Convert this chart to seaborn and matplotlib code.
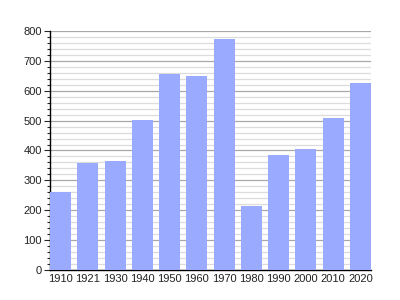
import matplotlib
matplotlib.use("Agg")
import matplotlib.pyplot as plt
from matplotlib.ticker import MultipleLocator
import seaborn as sns
import pandas as pd

years = ["1910", "1921", "1930", "1940", "1950", "1960", "1970", "1980", "1990", "2000", "2010", "2020"]
population = [261, 359, 365, 501, 656, 649, 773, 214, 385, 405, 508, 625]

df = pd.DataFrame({"year": years, "pop": population})

sns.set_style("white")
plt.rcParams['font.family'] = ['Liberation Sans', 'DejaVu Sans']

fig = plt.figure(figsize=(4, 3), dpi=100)
ax = fig.add_axes([0.125, 0.1, 0.8025, 0.7967])

sns.barplot(data=df, x="year", y="pop", color="#99aaff", saturation=1,
            width=0.77, linewidth=0, edgecolor="none", ax=ax, zorder=3)

ax.set_ylim(0, 800)
ax.set_xlim(-0.385, 11.385)
ax.yaxis.set_major_locator(MultipleLocator(100))
ax.yaxis.set_minor_locator(MultipleLocator(20))
ax.grid(which="major", axis="y", color="#a8a8a8", linewidth=0.9, zorder=0)
ax.grid(which="minor", axis="y", color="#dcdcdc", linewidth=0.9, zorder=0)
ax.set_axisbelow(True)
ax.set_xlabel("")
ax.set_ylabel("")
for s in ["top", "right"]:
    ax.spines[s].set_visible(False)
for s in ["left", "bottom"]:
    ax.spines[s].set_color("black")
    ax.spines[s].set_linewidth(1.0)
ax.tick_params(axis="y", which="major", length=4, width=0.8, labelsize=8, left=True, pad=2, labelcolor="#222222")
ax.tick_params(axis="y", which="minor", length=2, width=0.8, left=True)
ax.tick_params(axis="x", length=0, labelsize=8, pad=3, labelcolor="#222222")

fig.savefig("out.png", dpi=100)
